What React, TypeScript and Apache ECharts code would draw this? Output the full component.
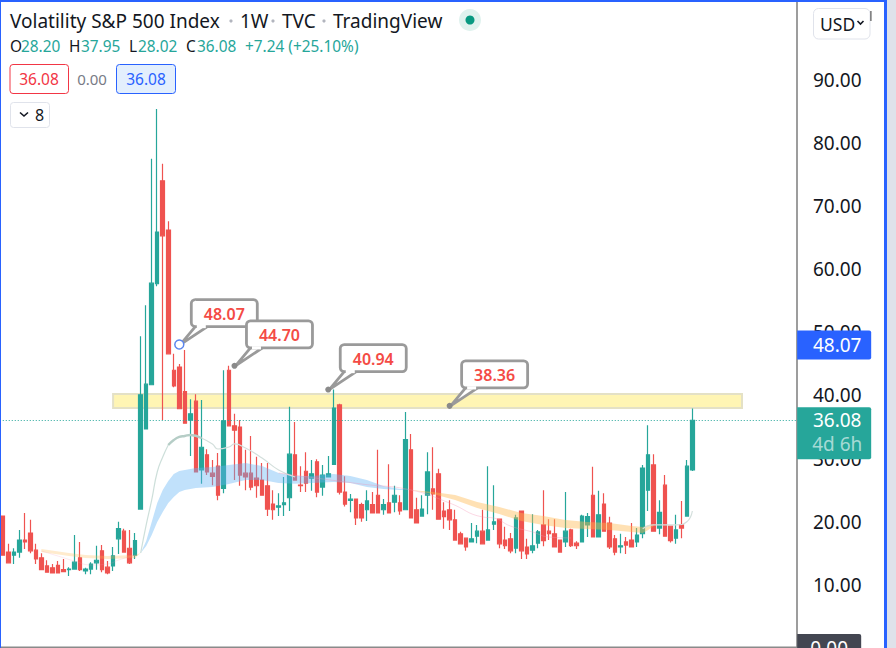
import { useEffect, useRef } from 'react'
import * as echarts from 'echarts'

// weekly candles
const opens = [20.9, 15.2, 14.7, 15.2, 17.1, 18.2, 15.5, 14.3, 13.0, 12.7, 13.1, 12.4, 12.4, 12.5, 14.3, 12.2, 12.5, 13.5, 15.4, 12.8, 13.0, 17.3, 18.5, 15.8, 14.7, 22.0, 34.7, 41.7, 57.7, 74.0, 66.2, 44.0, 44.5, 40.6, 36.1, 39.1, 28.2, 30.6, 27.7, 28.8, 25.3, 44.0, 35.2, 35.0, 27.7, 27.7, 26.9, 26.6, 25.7, 22.8, 22.3, 22.7, 23.8, 30.6, 25.8, 28.0, 26.9, 29.5, 25.5, 27.1, 29.1, 38.5, 24.7, 23.4, 23.6, 22.7, 21.9, 22.7, 24.2, 21.9, 23.0, 23.1, 23.0, 21.9, 31.4, 21.9, 20.9, 24.2, 25.2, 27.6, 21.7, 21.9, 20.3, 18.1, 17.4, 16.8, 17.7, 18.5, 17.1, 19.6, 20.4, 17.1, 17.3, 15.8, 21.7, 16.0, 15.5, 16.6, 19.5, 18.5, 18.1, 17.1, 16.8, 18.7, 16.6, 16.8, 19.5, 24.2, 17.6, 22.8, 19.8, 17.3, 16.0, 16.8, 17.1, 16.8, 18.1, 25.0, 29.0, 19.0, 25.8, 19.3, 17.4, 19.5, 20.9, 28.2]
const closes = [14.7, 13.5, 15.2, 17.1, 16.8, 15.4, 14.1, 12.4, 12.0, 11.9, 11.9, 12.1, 12.5, 13.6, 12.4, 12.5, 13.3, 13.9, 12.4, 11.9, 14.6, 18.9, 15.2, 13.5, 17.0, 40.1, 41.8, 57.8, 65.9, 65.3, 46.6, 41.5, 37.9, 35.6, 37.1, 27.9, 31.8, 27.9, 27.2, 24.2, 36.0, 35.2, 34.5, 27.4, 27.1, 25.5, 25.7, 24.2, 22.0, 21.9, 22.5, 23.0, 30.7, 26.6, 25.7, 26.1, 27.6, 24.7, 27.4, 27.6, 38.0, 24.7, 22.8, 23.6, 20.6, 20.6, 23.3, 21.4, 21.4, 22.7, 21.4, 24.2, 21.7, 33.0, 20.6, 19.8, 22.0, 27.9, 24.4, 20.4, 20.8, 20.3, 17.1, 16.5, 16.0, 17.3, 18.5, 16.5, 18.7, 20.0, 16.5, 16.2, 15.4, 20.6, 15.4, 14.9, 16.2, 18.4, 17.0, 18.1, 16.0, 15.2, 18.5, 16.2, 16.2, 20.9, 20.8, 17.6, 21.1, 18.5, 16.0, 15.2, 16.2, 16.3, 16.0, 17.9, 28.5, 30.6, 18.5, 21.5, 17.7, 17.0, 18.7, 19.0, 28.8, 36.08]
const lows = [14.7, 13.5, 13.3, 14.3, 15.7, 15.0, 13.3, 12.4, 12.0, 11.9, 11.9, 12.0, 11.4, 12.5, 12.2, 11.7, 11.7, 12.4, 12.0, 11.7, 12.2, 14.9, 15.2, 13.3, 14.1, 21.9, 34.7, 41.7, 57.3, 36.1, 46.6, 41.3, 37.9, 35.6, 30.4, 27.9, 26.0, 27.4, 25.8, 23.4, 24.5, 35.2, 26.6, 25.7, 25.0, 25.0, 23.8, 24.2, 20.9, 20.3, 20.9, 20.9, 21.7, 26.6, 24.7, 24.7, 24.9, 23.9, 24.1, 27.1, 29.1, 24.3, 22.4, 21.5, 19.5, 20.0, 20.1, 21.4, 21.4, 21.1, 21.4, 21.5, 21.1, 21.9, 20.6, 19.8, 20.9, 21.2, 21.9, 20.4, 18.9, 18.7, 17.1, 16.5, 15.4, 16.8, 16.6, 16.5, 17.0, 18.7, 15.8, 15.7, 15.0, 15.0, 14.1, 14.1, 15.0, 15.8, 16.1, 17.1, 16.0, 15.2, 16.0, 16.0, 15.7, 16.8, 17.6, 17.6, 17.6, 18.5, 15.7, 14.7, 15.0, 14.9, 16.0, 16.0, 17.4, 21.7, 18.5, 18.0, 17.7, 16.7, 16.5, 17.4, 20.9, 28.02]
const highs = [20.9, 16.5, 15.8, 18.7, 21.4, 20.3, 16.5, 15.0, 13.9, 13.3, 13.8, 14.1, 12.8, 17.9, 16.8, 12.7, 13.6, 16.2, 16.3, 13.8, 16.0, 20.0, 18.9, 18.7, 18.2, 49.4, 54.3, 77.5, 85.4, 76.7, 67.6, 46.6, 45.0, 47.2, 39.4, 40.2, 39.3, 31.5, 29.8, 30.9, 44.0, 44.7, 37.1, 36.1, 31.4, 33.6, 30.3, 29.3, 29.3, 25.0, 24.5, 27.1, 38.2, 35.8, 28.8, 31.0, 29.8, 29.9, 29.0, 30.4, 40.94, 38.7, 27.2, 24.4, 23.6, 23.0, 25.0, 24.7, 31.4, 23.6, 29.1, 25.7, 24.2, 37.4, 33.9, 23.8, 24.2, 31.0, 31.8, 28.4, 23.1, 23.4, 21.9, 18.4, 17.4, 19.8, 19.5, 21.9, 28.8, 25.8, 20.4, 19.2, 18.2, 21.1, 21.7, 17.3, 21.2, 18.7, 25.0, 20.4, 20.4, 17.1, 24.7, 18.9, 16.9, 21.1, 21.4, 28.7, 24.9, 24.5, 20.8, 17.9, 18.1, 17.6, 19.8, 19.0, 29.0, 35.3, 30.7, 23.4, 27.4, 19.3, 21.1, 23.3, 29.8, 37.95]
const categories = Array.from({ length: 145 }, (_, i) => String(i))

// moving average ribbons: candle index, upper edge, lower edge
const blueIdx = [25, 26, 27, 28, 29, 30, 31, 32, 33, 35, 38, 41, 44, 47, 50, 53, 56, 60, 63, 66, 69, 72, 74]
const blueTop = [15.05, 16.95, 19.96, 22.97, 25.03, 26.46, 27.56, 28.04, 28.2, 28.51, 28.67, 28.99, 29.31, 28.83, 27.72, 27.25, 27.25, 27.56, 27.25, 26.61, 25.66, 25.19, 25.03]
const blueBottom = [15.05, 16.16, 17.9, 19.96, 21.54, 22.97, 23.92, 24.71, 25.03, 25.35, 25.5, 25.98, 26.61, 26.61, 26.14, 26.0, 26.14, 26.3, 26.14, 25.5, 25.19, 25.03, 25.03]
const orangeIdx = [74, 76, 78, 82, 86, 90, 94, 98, 102, 106, 110, 114, 116, 117, 118]
const orangeTop = [25.03, 24.87, 24.71, 24.24, 23.13, 22.34, 21.39, 20.91, 20.28, 19.96, 19.8, 19.33, 19.17, 19.49, 19.64]
const orangeBottom = [25.03, 24.71, 24.4, 23.45, 22.18, 21.23, 20.12, 19.49, 19.01, 18.85, 18.69, 18.38, 18.22, 18.69, 19.33]
const earlyIdx = [7, 12, 15, 19, 24, 25]
const earlyTop = [15.68, 15.05, 14.73, 14.57, 14.73, 15.05]
const earlyBottom = [15.2, 14.57, 14.26, 14.1, 14.26, 15.05]

const fastLine: [number, number][] = [[25, 15.05], [26, 19.49], [27, 23.45], [28, 27.88], [29, 30.26], [30, 32.16]]
const fastBand: [number, number][] = [[30, 32.16], [31, 32.95], [32, 33.43], [33, 33.58], [34, 33.74], [36, 33.27]]
const fastTail: [number, number][] = [[36, 33.27], [38, 32.32], [39, 31.52], [41, 31.84], [42, 32.32], [44, 31.68], [47, 30.1], [50, 28.2], [53, 27.09]]
const endLine: [number, number][] = [[116, 18.9], [118, 19.5], [122, 19.5], [124, 20.0], [125, 21.7]]
const pinkLine: [number, number][] = [[50, 27.72], [65, 25.98], [74, 25.03], [81, 22.97], [87, 20.75], [89, 20.59], [92, 19.33], [96, 18.38], [99, 17.58], [103, 17.43]]
const earlyPink: [number, number][] = [[7, 15.37], [10, 14.57], [13, 13.78], [16, 13.15], [19, 13.31], [21, 13.94], [24, 14.73]]

// marked highs
const calloutIdx = [32, 42, 59, 81]
const calloutPrices = [48.07, 44.7, 40.94, 38.36]
const calloutLabels = ['48.07', '44.70', '40.94', '38.36']

const zoneIdx = [20, 134]
const zonePrices = [40.24, 38.02]
const lastPrice = 36.08
const lastCountdown = '4d 6h'
const markedPrice = 48.07
const axisEndIdx = 144
const yTicks = [10, 20, 30, 40, 50, 60, 70, 80, 90]

const titleParts = ['Volatility S&P 500 Index', '1W', 'TVC', 'TradingView']
const ohlcLetters = ['O', 'H', 'L', 'C']
const ohlcValues = ['28.20', '37.95', '28.02', '36.08']
const ohlcChange = '+7.24 (+25.10%)'

const FONT = '"Noto Sans", sans-serif'
const UP = '#26a69a'
const DOWN = '#ef5350'

function ribbon(idx: number[], top: number[], bottom: number[], fill: string) {
  return {
    type: 'custom' as const,
    coordinateSystem: 'cartesian2d',
    z: 4,
    silent: true,
    data: [[idx[0], top[0]]],
    renderItem: (_: any, api: any) => {
      const upper = idx.map((x, i) => api.coord([x, top[i]]))
      const lower = idx.map((x, i) => api.coord([x, bottom[i]])).reverse()
      return { type: 'polygon', shape: { points: [...upper, ...lower] }, style: { fill } }
    }
  }
}

function thinLine(data: [number, number][], color: string, width: number) {
  return {
    type: 'line' as const,
    data,
    z: 4,
    smooth: true,
    silent: true,
    showSymbol: false,
    lineStyle: { color, width }
  }
}

function callout(api: any, i: number) {
  const [ax, ay] = api.coord([calloutIdx[i], calloutPrices[i]])
  const bx = ax + 12
  const by = ay - 45
  const border = '#9a9a9a'
  const first = i === 0
  return {
    type: 'group',
    children: [
      {
        type: 'polygon',
        shape: { points: [[ax + 1, ay], [bx + 4, by + 27], [bx + 16, by + 27]] },
        style: { fill: '#ffffff', stroke: border, lineWidth: 2.8 }
      },
      {
        type: 'rect',
        shape: { x: bx, y: by, width: 66, height: 27, r: 4 },
        style: { fill: '#ffffff', stroke: border, lineWidth: 2.8 }
      },
      {
        type: 'line',
        shape: { x1: bx + 5.5, y1: by + 27, x2: bx + 14.5, y2: by + 27 },
        style: { stroke: '#ffffff', lineWidth: 3.2 }
      },
      {
        type: 'text',
        x: bx + 33,
        y: by + 14,
        style: { text: calloutLabels[i], fill: '#f44b45', font: `600 16px ${FONT}`, align: 'center', verticalAlign: 'middle' }
      },
      first
        ? { type: 'circle', shape: { cx: ax, cy: ay, r: 4.5 }, style: { fill: '#ffffff', stroke: '#5c86ee', lineWidth: 1.5 } }
        : { type: 'circle', shape: { cx: ax, cy: ay, r: 3 }, style: { fill: '#8a8a8a' } }
    ]
  }
}

// tags sitting on the price scale
function priceTags(api: any) {
  const x = api.coord([axisEndIdx, 0])[0]
  const blueY = api.coord([0, markedPrice])[1]
  const tealY = api.coord([0, lastPrice])[1]
  const zeroY = api.coord([0, 0])[1]
  const label = (text: string, cx: number, y: number, fill = '#ffffff') => ({
    type: 'text',
    x: cx,
    y,
    style: { text, fill, font: `19px ${FONT}`, align: 'center', verticalAlign: 'middle' }
  })
  return {
    type: 'group',
    children: [
      { type: 'rect', shape: { x, y: blueY - 14, width: 74, height: 29, r: [0, 2, 2, 0] }, style: { fill: '#2962ff' } },
      label(markedPrice.toFixed(2), x + 40, blueY),
      { type: 'rect', shape: { x, y: tealY - 13, width: 74, height: 52, r: [0, 2, 2, 0] }, style: { fill: UP } },
      label(lastPrice.toFixed(2), x + 40, tealY),
      label(lastCountdown, x + 40, tealY + 24, 'rgba(255,255,255,0.6)'),
      { type: 'rect', shape: { x, y: zeroY - 14, width: 64, height: 28, r: [0, 2, 2, 0] }, style: { fill: '#434651' } },
      label('0.00', x + 32, zeroY)
    ]
  }
}

function headerGraphics() {
  const text = (text: string, x: number, y: number, fill: string, size: number, align = 'left') => ({
    type: 'text',
    x,
    y,
    z: 20,
    style: { text, fill, font: `${size}px ${FONT}`, align, verticalAlign: 'middle' }
  })
  const titleX = [10, 240, 282, 333]
  const dotX = [231, 273, 324]
  const letterX = [10, 69, 129, 186]
  const valueX = [21, 81, 138, 197]
  return [
    { type: 'rect', z: 30, shape: { x: 0, y: 0, width: 887, height: 2 }, style: { fill: '#2962ff' } },
    { type: 'rect', z: 30, shape: { x: 0, y: 0, width: 1, height: 648 }, style: { fill: '#2962ff' } },
    { type: 'rect', z: 30, shape: { x: 1, y: 646.5, width: 796, height: 1.5 }, style: { fill: '#8a8a8a' } },

    ...titleParts.map((t, i) => text(t, titleX[i], 21, '#131722', 19)),
    ...dotX.map(x => ({ type: 'circle', z: 20, shape: { cx: x, cy: 21, r: 1.6 }, style: { fill: '#b2b5be' } })),
    { type: 'circle', z: 20, shape: { cx: 470, cy: 20, r: 11 }, style: { fill: '#dff2ee' } },
    { type: 'circle', z: 21, shape: { cx: 470, cy: 20, r: 4.5 }, style: { fill: '#089981' } },

    ...ohlcLetters.map((l, i) => text(l, letterX[i], 46, '#131722', 15.4)),
    ...ohlcValues.map((v, i) => text(v, valueX[i], 46, UP, 15.4)),
    text(ohlcChange, 245, 46, UP, 15.4),

    { type: 'rect', z: 20, shape: { x: 10, y: 64.5, width: 58.5, height: 29, r: 3 }, style: { fill: '#ffffff', stroke: '#f23645', lineWidth: 1 } },
    text('36.08', 39, 79, '#f23645', 15.5, 'center'),
    text('0.00', 92, 79, '#787b86', 15, 'center'),
    { type: 'rect', z: 20, shape: { x: 116.5, y: 64.5, width: 59, height: 29, r: 3 }, style: { fill: '#e3effd', stroke: '#2962ff', lineWidth: 1 } },
    text('36.08', 146, 79, '#2962ff', 15.5, 'center'),

    { type: 'rect', z: 20, shape: { x: 10.5, y: 102.5, width: 39, height: 25, r: 3 }, style: { fill: '#ffffff', stroke: '#e0e3eb', lineWidth: 1 } },
    { type: 'polyline', z: 21, shape: { points: [[20, 112.5], [24, 116], [28, 112.5]] }, style: { fill: 'none', stroke: '#131722', lineWidth: 1.6 } },
    text('8', 39.5, 115, '#131722', 16, 'center'),

    { type: 'rect', z: 20, shape: { x: 813.5, y: 8.5, width: 56.5, height: 30.5, r: 5 }, style: { fill: '#ffffff', stroke: '#e0e3eb', lineWidth: 1 } },
    text('USD', 820, 24, '#131722', 17.5),
    { type: 'polyline', z: 21, shape: { points: [[857.5, 21], [860.5, 24], [863.5, 21]] }, style: { fill: 'none', stroke: '#131722', lineWidth: 1.6 } },
    { type: 'rect', z: 20, shape: { x: 870.3, y: 11, width: 1.2, height: 10 }, style: { fill: '#555555' } }
  ]
}

export default function App() {
  const chartRef = useRef<HTMLDivElement>(null)

  useEffect(() => {
    if (!chartRef.current) return
    const chart = echarts.init(chartRef.current, undefined, { renderer: 'svg' })

    const option: any = {
      animation: false,
      backgroundColor: '#ffffff',
      grid: { left: -0.46, top: 0, width: 800.4, height: 648, containLabel: false },
      xAxis: {
        type: 'category',
        data: categories,
        boundaryGap: true,
        axisLine: { show: false },
        axisTick: { show: false },
        axisLabel: { show: false },
        splitLine: { show: false }
      },
      yAxis: {
        type: 'value',
        position: 'right',
        offset: -3,
        min: 0,
        max: 102.65,
        interval: 10,
        axisLine: { show: true, lineStyle: { color: '#7d7d7d', width: 1.5 } },
        axisTick: { show: false },
        splitLine: { show: false },
        axisLabel: {
          inside: false,
          margin: 16,
          color: '#131722',
          fontFamily: FONT,
          fontSize: 19,
          align: 'left',
          formatter: (v: number) => (yTicks.includes(v) ? v.toFixed(2) : '')
        }
      },
      graphic: headerGraphics(),
      series: [
        {
          type: 'line',
          data: [],
          z: 1,
          markArea: {
            silent: true,
            itemStyle: { color: '#fff5b4', borderColor: '#e4e1c6', borderWidth: 2 },
            data: [[{ coord: [zoneIdx[0], zonePrices[0]] }, { coord: [zoneIdx[1], zonePrices[1]] }]]
          }
        },
        {
          type: 'candlestick',
          data: opens.map((o, i) => [o, closes[i], lows[i], highs[i]]),
          barWidth: 4,
          z: 3,
          itemStyle: { color: UP, color0: DOWN, borderColor: UP, borderColor0: DOWN, borderWidth: 1.2 },
          markLine: {
            silent: true,
            symbol: 'none',
            label: { show: false },
            lineStyle: { color: UP, type: [1, 2], width: 1 },
            data: [[{ coord: [0, lastPrice] }, { coord: [axisEndIdx, lastPrice] }]]
          }
        },
        ribbon(earlyIdx, earlyTop, earlyBottom, 'rgba(255,183,77,0.28)'),
        ribbon(blueIdx, blueTop, blueBottom, 'rgba(100,181,246,0.4)'),
        ribbon(orangeIdx, orangeTop, orangeBottom, 'rgba(255,183,77,0.42)'),
        thinLine(fastLine, '#cddfda', 1.2),
        thinLine(fastBand, '#b5cdc6', 2.4),
        thinLine(fastTail, '#d3dfdc', 1.2),
        thinLine(endLine, '#d3dfdc', 1.2),
        thinLine(pinkLine, 'rgba(244,143,177,0.35)', 1),
        thinLine(earlyPink, 'rgba(244,143,177,0.2)', 1),
        {
          type: 'custom',
          coordinateSystem: 'cartesian2d',
          clip: false,
          z: 8,
          silent: true,
          data: calloutIdx.map((x, i) => [x, calloutPrices[i]]),
          renderItem: (params: any, api: any) => callout(api, params.dataIndex)
        },
        {
          type: 'custom',
          coordinateSystem: 'cartesian2d',
          clip: false,
          z: 9,
          silent: true,
          data: [[axisEndIdx, lastPrice]],
          renderItem: (_: any, api: any) => priceTags(api)
        }
      ]
    }

    chart.setOption(option)
    return () => {
      chart.dispose()
    }
  }, [])

  return (
    <div style={{ position: 'fixed', left: 0, top: 0, width: 896, height: 648, overflow: 'hidden', background: '#ffffff' }}>
      <div ref={chartRef} style={{ width: 896, height: 648 }} />
      {/* window edge on the right */}
      <div style={{ position: 'absolute', left: 884, top: 0, width: 3, height: 648, background: '#2962ff', zIndex: 5 }} />
      <div style={{ position: 'absolute', left: 887, top: 0, width: 9, height: 648, background: '#dfe2ea', zIndex: 5 }} />
    </div>
  )
}
